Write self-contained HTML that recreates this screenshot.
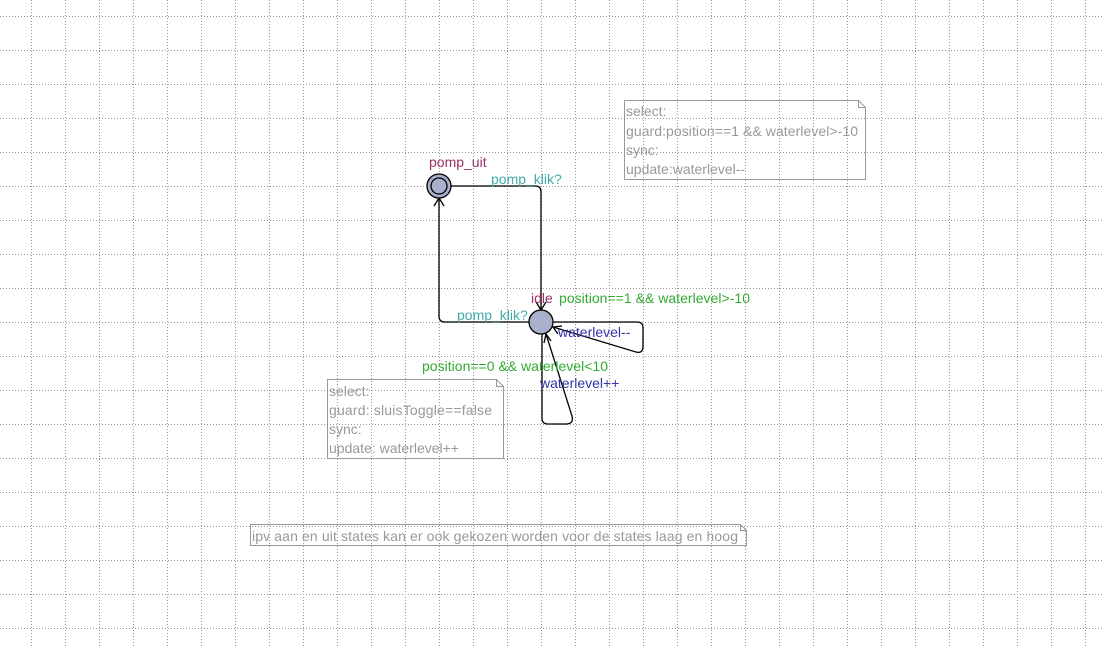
<!DOCTYPE html>
<html><head><style>
body{margin:0;width:1102px;height:646px;overflow:hidden;background:#fff;font-family:"Liberation Sans",sans-serif;}
</style></head><body>
<svg width="1102" height="646" xmlns="http://www.w3.org/2000/svg" font-family="Liberation Sans, sans-serif" font-size="14">
<defs>
<pattern id="gv" x="31" y="0" width="34" height="3" patternUnits="userSpaceOnUse"><rect x="0" y="0" width="1" height="1" fill="#999"/></pattern>
<pattern id="gh" x="0" y="16" width="3" height="34" patternUnits="userSpaceOnUse"><rect x="0" y="0" width="1" height="1" fill="#999"/></pattern>
</defs>
<rect width="1102" height="646" fill="url(#gv)"/>
<rect width="1102" height="646" fill="url(#gh)"/>
<g fill="none" stroke="#000" stroke-width="1.3">
<path d="M451 186 H535 Q541 186 541 192 V310"/>
<path d="M536 302 L541 310 L546 302"/>
<path d="M529 322 H445 Q439 322 439 316 V198"/>
<path d="M434 206 L439 198 L444 206"/>
<path d="M553 322 H637 Q643 322 643 328 V346 Q643 354 636 352 L553 327"/>
<path d="M558 334 L553 327 L562 326"/>
<path d="M542 334 V418 Q542 424 548 424 H566 Q574 424 572 416 L546 334"/>
<path d="M544 343 L546 334 L551 341"/>
</g>
<circle cx="439" cy="186" r="12" fill="#a8b0cc" stroke="#000" stroke-width="1.3"/>
<circle cx="439" cy="186" r="8" fill="#a8b0cc" stroke="#000" stroke-width="1.3"/>
<circle cx="541" cy="322" r="12" fill="#a8b0cc" stroke="#000" stroke-width="1.3"/>
<g fill="none" stroke="#999" stroke-width="1">
<path d="M624.5 100.5 H858.5 L865.5 107.5 V179.5 H624.5 Z M858.5 100.5 V107.5 H865.5"/>
<path d="M327.5 379.5 H496.5 L503.5 386.5 V458.5 H327.5 Z M496.5 379.5 V386.5 H503.5"/>
<path d="M250.5 524.5 H740.5 L746.5 530.5 V545.5 H250.5 Z M740.5 524.5 V530.5 H746.5"/>
</g>
<text x="429" y="167" fill="#993366">pomp_uit</text>
<text x="531" y="303" fill="#993366">idle</text>
<text x="491" y="184" fill="#44aaaa">pomp_klik?</text>
<text x="457" y="320" fill="#44aaaa">pomp_klik?</text>
<text x="559" y="303" fill="#33aa33" textLength="191">position==1 &amp;&amp; waterlevel&gt;-10</text>
<text x="422" y="371" fill="#33aa33" textLength="186">position==0 &amp;&amp; waterlevel&lt;10</text>
<text x="558" y="337" fill="#3333aa">waterlevel--</text>
<text x="540" y="388" fill="#3333aa">waterlevel++</text>
<g fill="#999">
<text x="626" y="116">select:</text>
<text x="626" y="136" textLength="232">guard:position==1 &amp;&amp; waterlevel&gt;-10</text>
<text x="626" y="155">sync:</text>
<text x="626" y="174">update:waterlevel--</text>
<text x="329" y="396">select:</text>
<text x="329" y="415" textLength="163">guard: sluisToggle==false</text>
<text x="329" y="434">sync:</text>
<text x="329" y="453">update: waterlevel++</text>
<text x="252" y="541" textLength="486">ipv aan en uit states kan er ook gekozen worden voor de states laag en hoog</text>
</g>
</svg>
</body></html>
